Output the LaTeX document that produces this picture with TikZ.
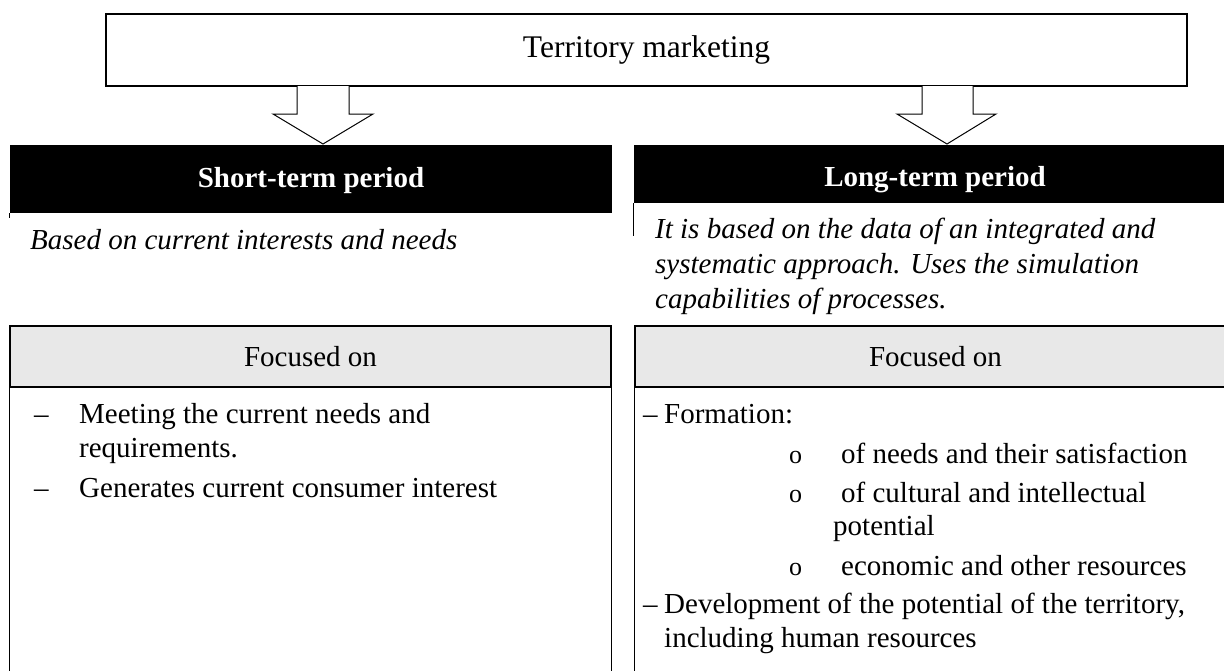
\documentclass[tikz,border=0pt]{standalone}
\usepackage{fontspec}
\setmainfont{Liberation Serif}
\definecolor{hdrgray}{HTML}{E8E8E8}
\begin{document}
\begin{tikzpicture}[x=1pt,y=-1pt,
  body/.style={font=\fontsize{29}{35}\selectfont, inner sep=0pt, anchor=base west},
  ital/.style={body, font=\fontsize{29}{35}\selectfont\itshape},
  bul/.style={inner sep=0pt, anchor=base west, font=\fontsize{26}{30}\selectfont},
  blackbox/.style={fill=black, inner sep=0pt, minimum width=602pt},
  boxlabel/.style={text=white, inner sep=0pt, anchor=base,
    font=\fontsize{29}{35}\selectfont\bfseries},
  hdr/.style={draw=black, line width=1.2pt, fill=hdrgray, inner sep=0pt,
    minimum width=601pt, minimum height=61pt, font=\fontsize{29}{35}\selectfont},
  blockarrow/.style={draw=black, line width=1pt, fill=white, line join=miter},
  side/.style={draw=black, line width=1.2pt},
  thin/.style={draw=black, line width=0.8pt}]
\useasboundingbox (0,0) rectangle (1224,670);
\clip (0,0) rectangle (1224,670);

% top box
\node[draw=black, line width=1.6pt, minimum width=1081pt, minimum height=72pt, inner sep=0pt,
  font=\fontsize{31.5}{36}\selectfont] (tm) at (646.5,50) {Territory marketing};

% block arrows
\draw[blockarrow] (297,86) -- (297,114) -- (273,114) -- (323,144) -- (373,114) -- (349,114) -- (349,86);
\draw[blockarrow] (922,86) -- (922,114) -- (897,114) -- (947,144) -- (996,114) -- (973,114) -- (973,86);

% black period boxes
\node[blackbox, minimum height=68pt] (st) at (311,179) {};
\node[blackbox, minimum height=58pt] (lt) at (935,174) {};
\node[boxlabel] (stl) at (311,187) {Short-term period};
\node[boxlabel] (ltl) at (935,186) {Long-term period};
\draw[thin] (st.south west) -- ++(0,5);
\draw[thin] (lt.south west) -- ++(0,33);

% italic descriptions
\node[ital] (d1) at (30,249) {Based on current interests and needs};
\node[ital] (d2a) at (655,238) {It is based on the data of an integrated and};
\node[ital] (d2b) at (655,273) {systematic approach. Uses the simulation};
\node[ital] (d2c) at (655,308) {capabilities of processes.};

% focus boxes
\node[hdr] (fl) at (310.5,356.5) {Focused on};
\node[hdr] (fr) at (935.5,356.5) {Focused on};
\draw[side] (fl.south west) -- ++(0,300);
\draw[side] (fl.south east) -- ++(0,300);
\draw[side] (fr.south west) -- ++(0,300);
\draw[side] (fr.south east) -- ++(0,300);

% left list
\node[body] (ld1) at (34,423) {–};
\node[body] (l1a) at (79,423) {Meeting the current needs and};
\node[body] (l1b) at (79,457) {requirements.};
\node[body] (ld2) at (34,497) {–};
\node[body] (l2) at (79,497) {Generates current consumer interest};

% right list
\node[body] (rd1) at (643,423) {–};
\node[body] (r1) at (664,423) {Formation:};
\node[bul] (c1) at (789,463) {o};
\node[body] (r1a) at (841,463) {of needs and their satisfaction};
\node[bul] (c2) at (789,502) {o};
\node[body] (r1b) at (841,502) {of cultural and intellectual};
\node[body] (r1bb) at (833,535) {potential};
\node[bul] (c3) at (789,575) {o};
\node[body] (r1c) at (841,575) {economic and other resources};
\node[body] (rd2) at (643,613) {–};
\node[body] (r2a) at (664,613) {Development of the potential of the territory,};
\node[body] (r2b) at (664,647) {including human resources};
\end{tikzpicture}
\end{document}
